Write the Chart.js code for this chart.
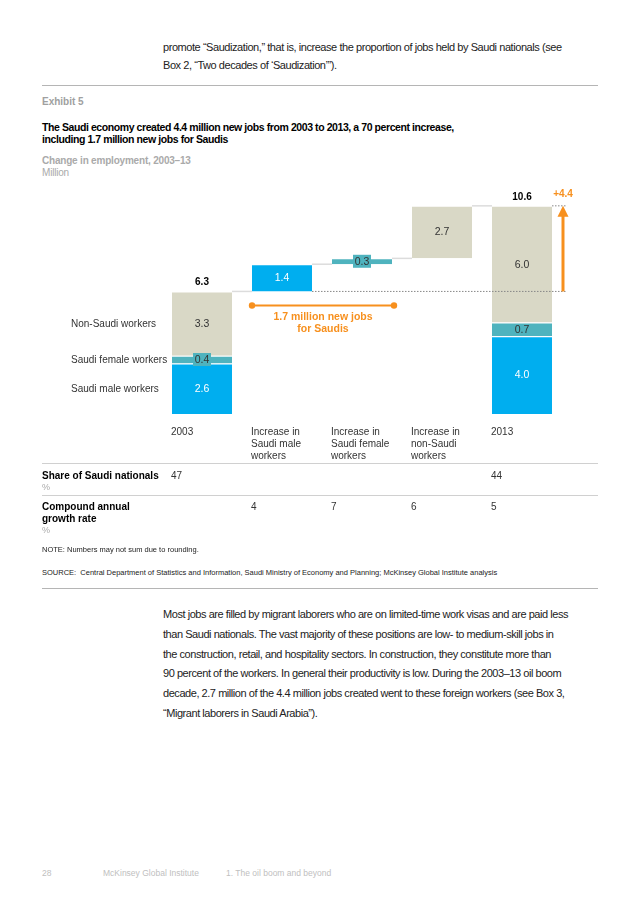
<!DOCTYPE html>
<html>
<head>
<meta charset="utf-8">
<script src="https://cdn.jsdelivr.net/npm/chart.js@4.4.1/dist/chart.umd.min.js"></script>
<style>
  body { margin: 0; background: #fff; font-family: "Liberation Sans", Arial, sans-serif; }
  #page { position: relative; width: 636px; height: 900px; overflow: hidden; }
  .t { position: absolute; white-space: pre; }
  .para { left: 163px; font-size: 11px; line-height: 19.8px; color: #222; letter-spacing: -0.44px; }
  .rule { position: absolute; left: 42px; width: 556px; height: 1px; background: #b5b5b5; }
  #chart { position: absolute; left: 0; top: 180px; }
</style>
</head>
<body>
<div id="page">
  <div class="t para" style="top:38px;line-height:18px">promote “Saudization,” that is, increase the proportion of jobs held by Saudi nationals (see
Box 2, “Two decades of ‘Saudization’”).</div>
  <div class="rule" style="top:85px"></div>
  <div class="t" style="left:42px;top:96px;font-size:10px;line-height:12px;font-weight:bold;color:#a0a0a0">Exhibit 5</div>
  <div class="t" style="left:42px;top:121px;font-size:10.5px;line-height:12px;font-weight:bold;color:#000;letter-spacing:-0.42px">The Saudi economy created 4.4 million new jobs from 2003 to 2013, a 70 percent increase,
including 1.7 million new jobs for Saudis</div>
  <div class="t" style="left:42px;top:155px;font-size:10px;line-height:12px;color:#aaa;letter-spacing:-0.2px"><b>Change in employment, 2003–13</b>
Million</div>

  <canvas id="chart" width="636" height="370"></canvas>

  <div class="t" style="left:42px;top:545px;font-size:7.5px;line-height:10px;color:#222">NOTE: Numbers may not sum due to rounding.</div>
  <div class="t" style="left:42px;top:568px;font-size:7.5px;line-height:10px;color:#222">SOURCE:  Central Department of Statistics and Information, Saudi Ministry of Economy and Planning; McKinsey Global Institute analysis</div>
  <div class="rule" style="top:588px"></div>

  <div class="t para" style="top:605px;letter-spacing:-0.45px">Most jobs are filled by migrant laborers who are on limited-time work visas and are paid less
than Saudi nationals. The vast majority of these positions are low- to medium-skill jobs in
the construction, retail, and hospitality sectors. In construction, they constitute more than
90 percent of the workers. In general their productivity is low. During the 2003–13 oil boom
decade, 2.7 million of the 4.4 million jobs created went to these foreign workers (see Box 3,
“Migrant laborers in Saudi Arabia”).</div>

  <div class="t" style="left:42px;top:867px;font-size:8.5px;line-height:12px;color:#c0c0c0">28</div>
  <div class="t" style="left:103px;top:867px;font-size:8.5px;line-height:12px;color:#c0c0c0">McKinsey Global Institute</div>
  <div class="t" style="left:226px;top:867px;font-size:8.5px;line-height:12px;color:#c0c0c0">1. The oil boom and beyond</div>
</div>

<script>
// chart data
const categories = [
  ['2003'],
  ['Increase in', 'Saudi male', 'workers'],
  ['Increase in', 'Saudi female', 'workers'],
  ['Increase in', 'non-Saudi', 'workers'],
  ['2013']
];
const saudiMale   = [2.6, 1.4, null, null, 4.0];
const saudiFemale = [0.4, null, 0.3, null, 0.7];
const nonSaudi    = [3.3, null, null, 2.7, 6.0];
const totals      = [6.3, null, null, null, 10.6];
const totalIncrease = '+4.4';
const saudiJobsNote = ['1.7 million new jobs', 'for Saudis'];
const shareSaudi  = [47, null, null, null, 44];
const growthRate  = [null, 4, 7, 6, 5];

const BLUE = '#00aeef', TEAL = '#4fb3be', BEIGE = '#d9d8c6', ORANGE = '#f7901e';

// waterfall: total bars start at 0, increments start at the running total
const series = [saudiMale, saudiFemale, nonSaudi];
const floats = series.map(() => []);
const tops = [];
let running = 0;
categories.forEach((c, i) => {
  let base = totals[i] != null ? 0 : running;
  series.forEach((arr, k) => {
    if (arr[i] == null) { floats[k].push(null); return; }
    floats[k].push([base, base + arr[i]]);
    base += arr[i];
  });
  running = base;
  tops.push(base);
});

const extras = {
  id: 'extras',
  afterDatasetsDraw(chart) {
    const ctx = chart.ctx;
    const x = chart.scales.x, y = chart.scales.y;
    const half = chart.getDatasetMeta(0).data[0].width / 2;
    ctx.save();

    // connectors between bars
    ctx.strokeStyle = '#dcdcdc';
    ctx.lineWidth = 1.5;
    for (let i = 0; i < categories.length - 1; i++) {
      const yy = y.getPixelForValue(tops[i]);
      ctx.beginPath();
      ctx.moveTo(x.getPixelForValue(i) + half, yy);
      ctx.lineTo(x.getPixelForValue(i + 1) - half, yy);
      ctx.stroke();
    }

    // value labels
    chart.data.datasets.forEach((ds, k) => {
      chart.getDatasetMeta(k).data.forEach((bar, i) => {
        const v = series[k][i];
        if (v == null) return;
        const cy = (bar.y + bar.base) / 2;
        const h = Math.abs(bar.base - bar.y);
        if (h < 12) {
          ctx.fillStyle = ds.backgroundColor;
          ctx.fillRect(bar.x - 9, cy - 6.5, 18, 13);
        }
        ctx.font = '10.5px "Liberation Sans", Arial';
        ctx.textAlign = 'center';
        ctx.textBaseline = 'middle';
        ctx.fillStyle = ds.backgroundColor === BLUE ? '#fff' : '#333';
        ctx.fillText(v.toFixed(1), bar.x, cy + 0.5);
      });
    });

    // totals
    ctx.font = 'bold 10px "Liberation Sans", Arial';
    ctx.fillStyle = '#000';
    totals.forEach((t, i) => {
      if (t == null) return;
      ctx.fillText(t.toFixed(1), x.getPixelForValue(i), y.getPixelForValue(tops[i]) - 9);
    });

    // series names beside the first bar
    ctx.font = '10px "Liberation Sans", Arial';
    ctx.fillStyle = '#333';
    ctx.textAlign = 'left';
    chart.data.datasets.forEach((ds, k) => {
      const bar = chart.getDatasetMeta(k).data[0];
      ctx.fillText(ds.label, 71, (bar.y + bar.base) / 2 + 0.5);
    });

    // dotted baseline and increase arrow
    const last = categories.length - 1;
    const ax = x.getPixelForValue(last) + half + 11;
    const y0 = y.getPixelForValue(totals[0]);
    const y1 = y.getPixelForValue(tops[last]);
    ctx.strokeStyle = '#888';
    ctx.lineWidth = 1;
    ctx.setLineDash([1.5, 1.5]);
    ctx.beginPath();
    ctx.moveTo(x.getPixelForValue(1) + half, y0);
    ctx.lineTo(ax + 4, y0);
    ctx.moveTo(x.getPixelForValue(last) + half, y1);
    ctx.lineTo(ax + 4, y1);
    ctx.stroke();
    ctx.setLineDash([]);
    ctx.strokeStyle = ORANGE;
    ctx.fillStyle = ORANGE;
    ctx.lineWidth = 3;
    ctx.beginPath();
    ctx.moveTo(ax, y0);
    ctx.lineTo(ax, y1 + 10);
    ctx.stroke();
    ctx.beginPath();
    ctx.moveTo(ax - 5.5, y1 + 11);
    ctx.lineTo(ax + 5.5, y1 + 11);
    ctx.lineTo(ax, y1);
    ctx.closePath();
    ctx.fill();
    ctx.font = 'bold 10px "Liberation Sans", Arial';
    ctx.textAlign = 'center';
    ctx.fillText(totalIncrease, ax, y1 - 12);

    // Saudi jobs bracket
    const bx0 = x.getPixelForValue(1) - half, bx1 = x.getPixelForValue(2) + half + 2;
    const by = y0 + 14;
    ctx.lineWidth = 2;
    ctx.beginPath();
    ctx.moveTo(bx0, by);
    ctx.lineTo(bx1, by);
    ctx.stroke();
    [bx0, bx1].forEach(px => { ctx.beginPath(); ctx.arc(px, by, 3.2, 0, Math.PI * 2); ctx.fill(); });
    ctx.font = 'bold 10.5px "Liberation Sans", Arial';
    saudiJobsNote.forEach((s, j) => ctx.fillText(s, (bx0 + bx1) / 2, by + 12 + j * 12));

    // category labels
    ctx.font = '10px "Liberation Sans", Arial';
    ctx.fillStyle = '#333';
    ctx.textAlign = 'left';
    const base = y.getPixelForValue(0);
    categories.forEach((lines, i) => {
      lines.forEach((s, j) => ctx.fillText(s, x.getPixelForValue(i) - half - 1, base + 18 + j * 12));
    });

    // table below
    const rowY = base + 50;
    ctx.fillStyle = '#d0d0d0';
    ctx.fillRect(42, rowY - 1, 556, 1);
    ctx.fillRect(42, rowY + 31, 556, 1);
    ctx.fillStyle = '#000';
    ctx.font = 'bold 10px "Liberation Sans", Arial';
    ctx.fillText('Share of Saudi nationals', 42, rowY + 12);
    ctx.fillText('Compound annual', 42, rowY + 43);
    ctx.fillText('growth rate', 42, rowY + 55);
    ctx.font = '9px "Liberation Sans", Arial';
    ctx.fillStyle = '#aaa';
    ctx.fillText('%', 42, rowY + 24);
    ctx.fillText('%', 42, rowY + 67);
    ctx.font = '10px "Liberation Sans", Arial';
    ctx.fillStyle = '#333';
    categories.forEach((c, i) => {
      const lx = x.getPixelForValue(i) - half - 1;
      if (shareSaudi[i] != null) ctx.fillText(String(shareSaudi[i]), lx, rowY + 12);
      if (growthRate[i] != null) ctx.fillText(String(growthRate[i]), lx, rowY + 43);
    });
    ctx.restore();
  }
};

new Chart(document.getElementById('chart').getContext('2d'), {
  type: 'bar',
  data: {
    labels: categories.map(c => c.join(' ')),
    datasets: [
      { label: 'Saudi male workers', data: floats[0], backgroundColor: BLUE },
      { label: 'Saudi female workers', data: floats[1], backgroundColor: TEAL },
      { label: 'Non-Saudi workers', data: floats[2], backgroundColor: BEIGE }
    ].map(ds => Object.assign(ds, {
      borderColor: '#fff',
      borderWidth: { top: 1, bottom: 0, left: 0, right: 0 },
      borderSkipped: false,
      categoryPercentage: 0.75,
      barPercentage: 1
    }))
  },
  options: {
    responsive: false,
    animation: false,
    layout: { padding: { left: 162, right: 74, top: 20, bottom: 136 } },
    plugins: { legend: { display: false }, tooltip: { enabled: false } },
    scales: {
      x: { display: false, stacked: true },
      y: { display: false, min: 0, max: 11 }
    }
  },
  plugins: [extras]
});
</script>
</body>
</html>
